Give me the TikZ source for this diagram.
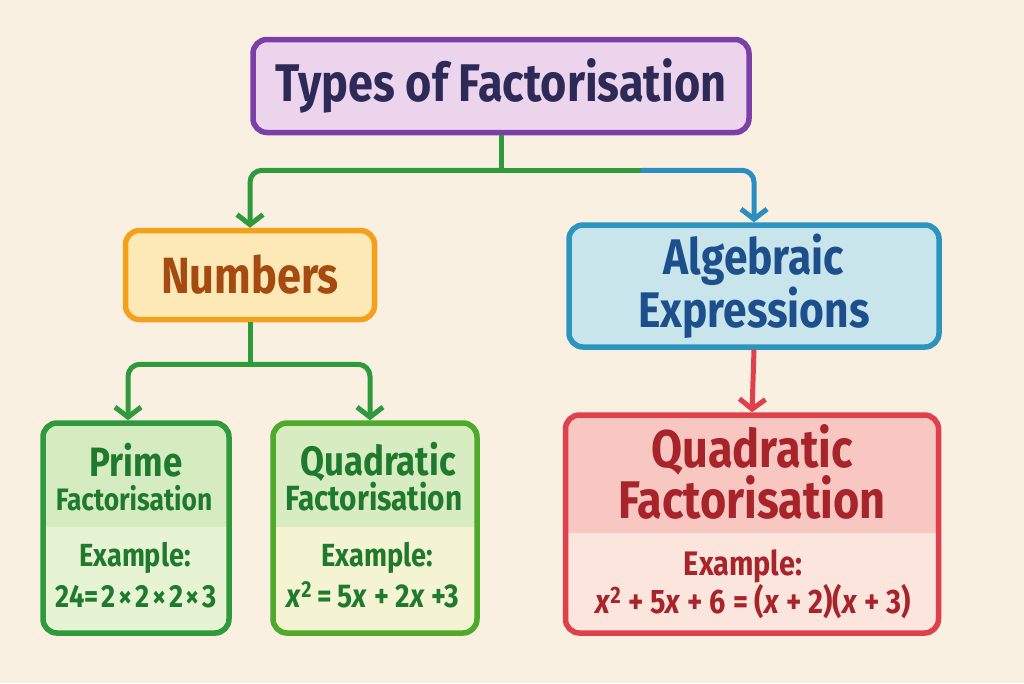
\documentclass[tikz,border=0pt]{standalone}
\usepackage{fontspec}
\setmainfont{Fira Sans}[FakeStretch=0.85]
\usetikzlibrary{positioning,arrows.meta,calc}
\definecolor{bg}{HTML}{FAF0E1}
\definecolor{titleline}{HTML}{7B3FA8}
\definecolor{titlefill}{HTML}{EBD4EC}
\definecolor{titletext}{HTML}{2D2A58}
\definecolor{numline}{HTML}{F5A01A}
\definecolor{numfill}{HTML}{FDE9B5}
\definecolor{numtext}{HTML}{A54B12}
\definecolor{algline}{HTML}{2B95C0}
\definecolor{algfill}{HTML}{C9E5EC}
\definecolor{algtext}{HTML}{1D4F8C}
\definecolor{primeline}{HTML}{2E9A3C}
\definecolor{primehead}{HTML}{D4ECBF}
\definecolor{primebody}{HTML}{E6F4D3}
\definecolor{quadgline}{HTML}{4DAA2A}
\definecolor{quadghead}{HTML}{D7ECC1}
\definecolor{quadgbody}{HTML}{F4F3D2}
\definecolor{greentext}{HTML}{1F7A2E}
\definecolor{quadrline}{HTML}{E0404C}
\definecolor{quadrhead}{HTML}{F9C7C1}
\definecolor{quadrbody}{HTML}{FCE5DD}
\definecolor{quadrtext}{HTML}{A8242B}
\definecolor{linkgreen}{HTML}{2E9A3C}
\definecolor{linkblue}{HTML}{2A8FC0}
\newcommand\fsz[1]{\fontsize{#1}{#1}\selectfont}

\begin{document}
\begin{tikzpicture}[x=1pt,y=-1pt,
    box/.style={draw,line width=5.5pt,rounded corners=14pt,inner sep=0pt,align=center,font=\bfseries},
    hdr/.style 2 args={path picture={\fill[#1,sharp corners] ([shift={(-10pt,10pt)}]path picture bounding box.north west) rectangle ([shift={(10pt,-#2)}]path picture bounding box.north east);}},
    lbl/.style={anchor=base,font=\bfseries},
    link/.style={line width=5pt,rounded corners=12pt,-{Straight Barb[length=10pt,width=26pt,line width=5pt]}},
    trunk/.style={line width=5pt}]
    \fill[bg] (0,0) rectangle (1024,683);
    \useasboundingbox (0,0) rectangle (1024,683);
    % upper boxes
    \node[box,draw=titleline,fill=titlefill,text=titletext,minimum width=496pt,minimum height=93pt,font=\bfseries\fsz{53}] (title) at (501,86) {Types of Factorisation};
    \node[box,draw=numline,fill=numfill,text=numtext,minimum width=249pt,minimum height=89pt,font=\bfseries\fsz{51}] (numbers) at (250,275) {Numbers};
    \node[box,draw=algline,fill=algfill,text=algtext,minimum width=370pt,minimum height=122pt,font=\bfseries\fontsize{50}{46}\selectfont] (alg) at (754,286) {Algebraic\\Expressions};
    % lower boxes
    \node[box,draw=primeline,fill=primebody,hdr={primehead}{104pt},minimum width=186pt,minimum height=210pt] (prime) at (136,528) {};
    \node[box,draw=quadgline,fill=quadgbody,hdr={quadghead}{104pt},minimum width=204pt,minimum height=210pt] (quadg) at (375,528) {};
    \node[box,draw=quadrline,fill=quadrbody,hdr={quadrhead}{118pt},minimum width=373pt,minimum height=218pt] (quadr) at (752,524) {};
    % texts in lower boxes
    \node[lbl,text=greentext,font=\bfseries\fsz{41}] (primet) at (136,476) {Prime};
    \node[lbl,text=greentext,font=\bfseries\fsz{31}] (primef) at (134,510) {Factorisation};
    \node[lbl,text=greentext,font=\bfseries\fsz{32}] (primee) at (135,566) {Example:};
    \node[lbl,text=greentext,font=\bfseries\fsz{32}] (primex) at (136,607) {24=\kern3pt2\kern3pt×\kern3pt2\kern3pt×\kern3pt2\kern2pt×\kern2pt3};
    \node[lbl,text=greentext,font=\bfseries\fsz{41}] (quadgt) at (378,475) {Quadratic};
    \node[lbl,text=greentext,font=\bfseries\fsz{35}] (quadgf) at (374,510) {Factorisation};
    \node[lbl,text=greentext,font=\bfseries\fsz{32}] (quadge) at (377,566) {Example:};
    \node[lbl,text=greentext,font=\bfseries\fsz{33}] (quadgx) at (373,607) {\textit{x}\textsuperscript{2}\,=\,5\textit{x} + 2\textit{x} +3};
    \node[lbl,text=quadrtext,font=\bfseries\fsz{53}] (quadrt) at (752,467) {Quadratic};
    \node[lbl,text=quadrtext,font=\bfseries\fsz{53}] (quadrf) at (752,518) {Factorisation};
    \node[lbl,text=quadrtext,font=\bfseries\fsz{34}] (quadre) at (743,575) {Example:};
    \node[lbl,text=quadrtext,font=\bfseries\fsz{34}] (quadrx) at (753,613) {\textit{x}\textsuperscript{2} + 5\textit{x} + 6 = (\textit{x} + 2)(\textit{x} + 3)};
    % connectors
    \coordinate (fork) at ($(title.south)+(0,35)$);
    \coordinate (blend) at ($(fork)+(140,0)$);
    \draw[trunk,linkgreen] (title.south) -- (fork) -- (blend);
    \draw[link,linkgreen] (fork) -| (numbers.north);
    \draw[link,linkblue] (blend) -| (alg.north);
    \coordinate (split) at ($(numbers.south)+(0,42)$);
    \draw[trunk,linkgreen] (numbers.south) -- (split);
    \draw[link,linkgreen] (split) -| ([xshift=-8pt]prime.north);
    \draw[link,linkgreen] (split) -| ([xshift=-5pt]quadg.north);
    \draw[link,quadrline] (alg.south) -- (quadr.north);
\end{tikzpicture}
\end{document}
